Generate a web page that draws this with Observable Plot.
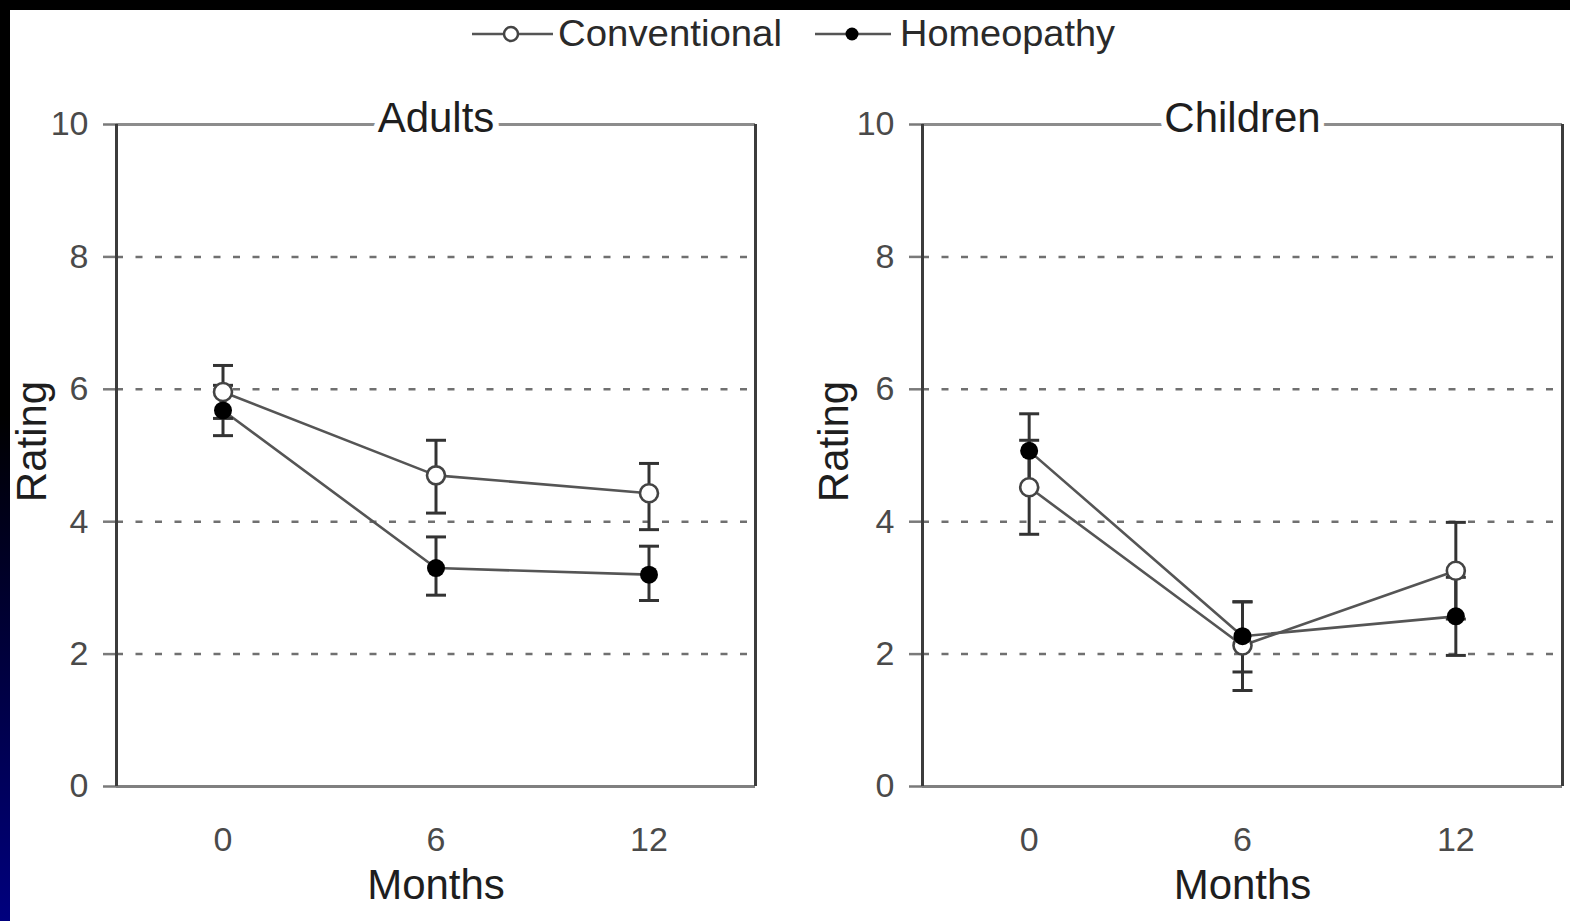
<!DOCTYPE html>
<html>
<head>
<meta charset="utf-8">
<script src="https://cdn.jsdelivr.net/npm/d3@7"></script>
<script src="https://cdn.jsdelivr.net/npm/@observablehq/plot@0.6"></script>
<style>
  html, body { margin: 0; padding: 0; background: #fff; }
  #page { position: relative; width: 1570px; height: 921px; overflow: hidden; background: #fff;
          font-family: "Liberation Sans", Arial, sans-serif; }
  #topbar { position: absolute; left: 0; top: 0; width: 1570px; height: 10px; background: #000; }
  #leftbar { position: absolute; left: 0; top: 0; width: 10px; height: 921px;
             background: linear-gradient(#000 0%, #000 45%, #00007e 100%); }
  #legend { position: absolute; left: 0; top: 0; }
  .panel { position: absolute; top: 0; }
  .panel svg { background: transparent !important; overflow: visible; }
  .panel g[aria-label="y-axis tick"] { stroke: #7a7a7a; stroke-width: 2.5; }
  .panel g[aria-label="y-axis tick label"], .panel g[aria-label="x-axis tick label"] { fill: #4a4a4a; }
</style>
</head>
<body>
<div id="page">
  <div id="p1" class="panel" style="left:0px"></div>
  <div id="p2" class="panel" style="left:790px"></div>
  <svg id="legend" width="1570" height="70"></svg>
  <div id="topbar"></div>
  <div id="leftbar"></div>
</div>
<script>
// ---- data ----
const months = [0, 6, 12];
const seriesNames = ["Conventional", "Homeopathy"];
const panelTitles = ["Adults", "Children"];
const yTicks = [0, 2, 4, 6, 8, 10];
const gridValues = [2, 4, 6, 8];
const axisTitleX = "Months";
const axisTitleY = "Rating";

const adultsConventional   = [5.96, 4.70, 4.43];
const adultsConventionalLo = [5.56, 4.13, 3.88];
const adultsConventionalHi = [6.36, 5.23, 4.88];
const adultsHomeopathy     = [5.68, 3.30, 3.20];
const adultsHomeopathyLo   = [5.30, 2.89, 2.81];
const adultsHomeopathyHi   = [6.06, 3.77, 3.63];

const childrenConventional   = [4.52, 2.13, 3.26];
const childrenConventionalLo = [3.81, 1.45, 2.53];
const childrenConventionalHi = [5.23, 2.79, 3.99];
const childrenHomeopathy     = [5.07, 2.27, 2.57];
const childrenHomeopathyLo   = [4.51, 1.73, 1.98];
const childrenHomeopathyHi   = [5.63, 2.79, 3.16];

function rows(series, vals, lo, hi) {
  return months.map((m, i) => ({series, month: m, value: vals[i], lo: lo[i], hi: hi[i]}));
}
const adultsData = [
  ...rows(seriesNames[0], adultsConventional, adultsConventionalLo, adultsConventionalHi),
  ...rows(seriesNames[1], adultsHomeopathy, adultsHomeopathyLo, adultsHomeopathyHi)
];
const childrenData = [
  ...rows(seriesNames[0], childrenConventional, childrenConventionalLo, childrenConventionalHi),
  ...rows(seriesNames[1], childrenHomeopathy, childrenHomeopathyLo, childrenHomeopathyHi)
];

// horizontal cap symbol for error bars
const capSymbol = {
  draw(ctx, size) {
    const r = Math.sqrt(size / Math.PI);
    ctx.moveTo(-r, 0);
    ctx.lineTo(r, 0);
  }
};

const FONT = "Liberation Sans, Arial, sans-serif";

function panel(title, data, opts) {
  const conv = data.filter(d => d.series === seriesNames[0]);
  const homo = data.filter(d => d.series === seriesNames[1]);
  return Plot.plot({
    width: opts.width,
    height: 921,
    marginLeft: opts.marginLeft,
    marginRight: opts.marginRight,
    marginTop: 124,
    marginBottom: 135,
    style: {fontFamily: FONT, fontSize: "34px", color: "#3a3a3a", background: "transparent", overflow: "visible"},
    x: {domain: [-3, 15], ticks: months, tickSize: 0, tickPadding: 40, label: null},
    y: {domain: [0, 10], ticks: yTicks, tickSize: 13, tickPadding: 15, label: null},
    marks: [
      Plot.ruleY(gridValues, {stroke: "#707070", strokeWidth: 2.5, strokeDasharray: "7,12.5"}),
      Plot.ruleY([0], {stroke: "#808080", strokeWidth: 3}),
      Plot.ruleY([10], {stroke: "#8c8c8c", strokeWidth: 3}),
      Plot.ruleX([-3], {stroke: "#3c3c3c", strokeWidth: 3}),
      Plot.ruleX([15], {stroke: "#3c3c3c", strokeWidth: 3}),
      Plot.line(data, {x: "month", y: "value", z: "series", stroke: "#555", strokeWidth: 2.6}),
      Plot.ruleX(data, {x: "month", y1: "lo", y2: "hi", stroke: "#333", strokeWidth: 3}),
      Plot.dot(data, {x: "month", y: "lo", symbol: capSymbol, r: 10, fill: "none", stroke: "#333", strokeWidth: 3}),
      Plot.dot(data, {x: "month", y: "hi", symbol: capSymbol, r: 10, fill: "none", stroke: "#333", strokeWidth: 3}),
      Plot.dot(conv, {x: "month", y: "value", r: 9, fill: "white", stroke: "#444", strokeWidth: 2.6}),
      Plot.dot(homo, {x: "month", y: "value", r: 9, fill: "#000"}),
      Plot.text([title], {frameAnchor: "top", lineAnchor: "middle", dy: -6, fontSize: 42,
        fill: "#1e1e1e", stroke: "white", strokeWidth: 12}),
      Plot.text([axisTitleX], {frameAnchor: "bottom", lineAnchor: "middle", dy: 99, fontSize: 42, fill: "#1e1e1e"}),
      Plot.text([axisTitleY], {frameAnchor: "left", textAnchor: "middle", lineAnchor: "middle",
        rotate: -90, dx: opts.labelDx, dy: -14, fontSize: 42, fill: "#1e1e1e"})
    ]
  });
}

document.getElementById("p1").appendChild(
  panel(panelTitles[0], adultsData, {width: 790, marginLeft: 116, marginRight: 35, labelDx: -84}));
document.getElementById("p2").appendChild(
  panel(panelTitles[1], childrenData, {width: 780, marginLeft: 132, marginRight: 8, labelDx: -88}));

// ---- legend ----
const lg = d3.select("#legend");
const legendItems = [
  {name: seriesNames[0], x0: 472, x1: 553, cx: 511, tx: 558, tw: 224, open: true},
  {name: seriesNames[1], x0: 815, x1: 891, cx: 852, tx: 900, tw: 215, open: false}
];
for (const it of legendItems) {
  lg.append("line").attr("x1", it.x0).attr("x2", it.x1).attr("y1", 34).attr("y2", 34)
    .attr("stroke", "#555").attr("stroke-width", 2.5);
  lg.append("circle").attr("cx", it.cx).attr("cy", 34).attr("r", it.open ? 7 : 6.5)
    .attr("fill", it.open ? "white" : "#000").attr("stroke", it.open ? "#444" : "none").attr("stroke-width", 2.5);
  lg.append("text").attr("x", it.tx).attr("y", 46).attr("font-family", FONT).attr("font-size", 36)
    .attr("fill", "#2a2a2a").attr("textLength", it.tw).attr("lengthAdjust", "spacingAndGlyphs").text(it.name);
}
</script>
</body>
</html>
